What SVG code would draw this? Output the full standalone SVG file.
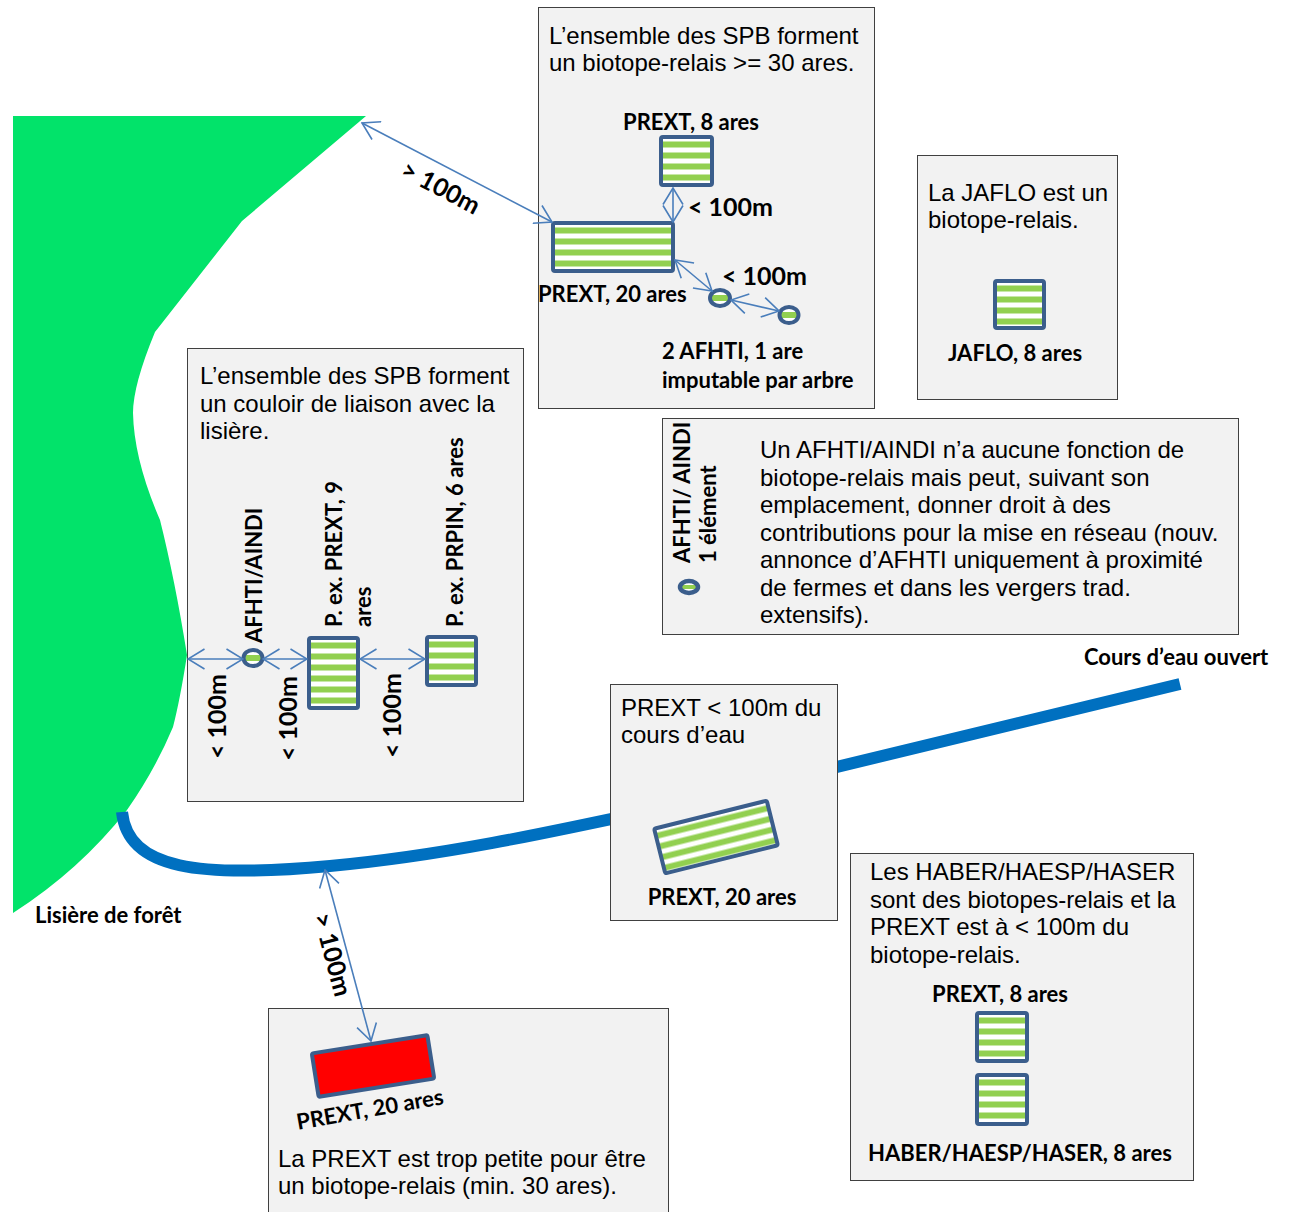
<svg xmlns="http://www.w3.org/2000/svg" width="1291" height="1212" viewBox="0 0 1291 1212">
<style>
.t{font-family:"Liberation Sans",Arial,sans-serif;font-size:24px;fill:#000}
.b{font-family:Lato,"Open Sans",sans-serif;font-weight:700;font-size:22px;fill:#000}
.box{fill:#F2F2F2;stroke:#404040;stroke-width:1}
.sq{fill:url(#stripes);stroke:#3B5E8C;stroke-width:4}
.el{fill:url(#band);stroke:#3B5E8C;stroke-width:4}
.ar{fill:none;stroke:#4A7EBB;stroke-width:1.6;marker-start:url(#ah);marker-end:url(#ah)}
.big{font-size:25px}
</style>
<defs>
<pattern id="stripes" patternUnits="userSpaceOnUse" width="20" height="11">
<rect width="20" height="11" fill="#FFFFFF"/>
<rect y="4.5" width="20" height="6" fill="#92D050"/>
</pattern>
<linearGradient id="band" x1="0" y1="0" x2="0" y2="1">
<stop offset="0" stop-color="#FFFFFF"/><stop offset="0.33" stop-color="#FFFFFF"/>
<stop offset="0.33" stop-color="#92D050"/><stop offset="0.67" stop-color="#92D050"/>
<stop offset="0.67" stop-color="#FFFFFF"/><stop offset="1" stop-color="#FFFFFF"/>
</linearGradient>
<marker id="ah" markerUnits="userSpaceOnUse" viewBox="0 0 18 22" refX="17" refY="11" markerWidth="18" markerHeight="22" orient="auto-start-reverse">
<path d="M0.5,1 L17,11 L0.5,21" fill="none" stroke="#4A7EBB" stroke-width="1.6"/>
</marker>
</defs>

<g id="forest">
<path d="M13,116 L366,116 L242,221 L155,332 Q133,385 133,413 Q134,460 160,520 Q175,580 187,655 Q180,700 173,727 Q155,770 127,810 Q80,870 13,913 Z" fill="#02E36A"/>
<text class="b" x="35" y="923">Lisière de forêt</text>
</g>

<g id="river">
<path d="M122,812 C128,870 200,878 330,866 C450,855 560,830 700,800 L1180,684" fill="none" stroke="#0070C0" stroke-width="12"/>
<text class="b" x="1084" y="665">Cours d’eau ouvert</text>
</g>

<g id="box-top">
<rect class="box" x="538.5" y="7.5" width="336" height="401"/>
<text class="t" x="549" y="44">L’ensemble des SPB forment</text>
<text class="t" x="549" y="71">un biotope-relais &gt;= 30 ares.</text>
<text class="b" x="691" y="130" text-anchor="middle">PREXT, 8 ares</text>
<g transform="translate(661,137)"><rect class="sq" width="51" height="48" rx="2"/></g>
<g transform="translate(553,223)"><rect class="sq" width="120" height="48" rx="2"/></g>
<text class="b" x="538" y="302">PREXT, 20 ares</text>
<ellipse class="el" cx="720" cy="298" rx="10" ry="8"/>
<ellipse class="el" cx="789" cy="315" rx="9.5" ry="8"/>
<text class="b big" x="688" y="216">&lt; 100m</text>
<text class="b big" x="722" y="285">&lt; 100m</text>
<text class="b" x="662" y="359">2 AFHTI, 1 are</text>
<text class="b" x="662" y="388">imputable par arbre</text>
</g>

<g id="box-jaflo">
<rect class="box" x="917.5" y="155.5" width="200" height="244"/>
<text class="t" x="928" y="201">La JAFLO est un</text>
<text class="t" x="928" y="228">biotope-relais.</text>
<g transform="translate(995,281)"><rect class="sq" width="49" height="47" rx="2"/></g>
<text class="b" x="1015" y="361" text-anchor="middle">JAFLO, 8 ares</text>
</g>

<g id="box-left">
<rect class="box" x="187.5" y="348.5" width="336" height="453"/>
<text class="t" x="200" y="384">L’ensemble des SPB forment</text>
<text class="t" x="200" y="412">un couloir de liaison avec la</text>
<text class="t" x="200" y="439">lisière.</text>
<ellipse class="el" cx="253" cy="658" rx="9.5" ry="8"/>
<g transform="translate(309,638)"><rect class="sq" width="49" height="70" rx="2"/></g>
<g transform="translate(427,637)"><rect class="sq" width="49" height="48" rx="2"/></g>
<text class="b" transform="translate(262,643) rotate(-90)">AFHTI/AINDI</text>
<text class="b" transform="translate(342,627) rotate(-90)">P. ex. PREXT, 9</text>
<text class="b" transform="translate(371,627) rotate(-90)">ares</text>
<text class="b" transform="translate(463,627) rotate(-90)">P. ex. PRPIN, 6 ares</text>
<text class="b big" transform="translate(226,759) rotate(-90)">&lt; 100m</text>
<text class="b big" transform="translate(297,761) rotate(-90)">&lt; 100m</text>
<text class="b big" transform="translate(401,758) rotate(-90)">&lt; 100m</text>
</g>

<g id="box-legend">
<rect class="box" x="662.5" y="418.5" width="576" height="216"/>
<text class="b" transform="translate(690,563) rotate(-90)">AFHTI/ AINDI</text>
<text class="b" transform="translate(716,563) rotate(-90)">1 élément</text>
<ellipse class="el" cx="689" cy="587" rx="9" ry="6" style="stroke-width:4.5"/>
<text class="t" x="760" y="458">Un AFHTI/AINDI n’a aucune fonction de</text>
<text class="t" x="760" y="485.5">biotope-relais mais peut, suivant son</text>
<text class="t" x="760" y="513">emplacement, donner droit à des</text>
<text class="t" x="760" y="540.5">contributions pour la mise en réseau (nouv.</text>
<text class="t" x="760" y="568">annonce d’AFHTI uniquement à proximité</text>
<text class="t" x="760" y="595.5">de fermes et dans les vergers trad.</text>
<text class="t" x="760" y="623">extensifs).</text>
</g>

<g id="box-river">
<rect class="box" x="610.5" y="684.5" width="227" height="236"/>
<text class="t" x="621" y="716">PREXT &lt; 100m du</text>
<text class="t" x="621" y="743">cours d’eau</text>
<g transform="translate(716,837) rotate(-14) translate(-58,-23)"><rect class="sq" width="116" height="46" rx="2"/></g>
<text class="b" x="722" y="905" text-anchor="middle">PREXT, 20 ares</text>
</g>

<g id="box-haber">
<rect class="box" x="850.5" y="853.5" width="343" height="327"/>
<text class="t" x="870" y="880">Les HABER/HAESP/HASER</text>
<text class="t" x="870" y="908">sont des biotopes-relais et la</text>
<text class="t" x="870" y="935">PREXT est à &lt; 100m du</text>
<text class="t" x="870" y="963">biotope-relais.</text>
<text class="b" x="1000" y="1002" text-anchor="middle">PREXT, 8 ares</text>
<g transform="translate(977,1013)"><rect class="sq" width="50" height="48" rx="2"/></g>
<g transform="translate(977,1075)"><rect class="sq" width="50" height="49" rx="2"/></g>
<text class="b" x="1020" y="1161" text-anchor="middle">HABER/HAESP/HASER, 8 ares</text>
</g>

<g id="box-red">
<rect class="box" x="268.5" y="1008.5" width="400" height="210"/>
<g transform="translate(373,1066) rotate(-9)"><rect x="-58.5" y="-22" width="117" height="44" rx="2" fill="#FF0000" stroke="#3B5E8C" stroke-width="4"/></g>
<text class="b" transform="translate(370,1110) rotate(-10)" x="0" y="7" text-anchor="middle">PREXT, 20 ares</text>
<text class="t" x="278" y="1167">La PREXT est trop petite pour être</text>
<text class="t" x="278" y="1194">un biotope-relais (min. 30 ares).</text>
</g>

<g id="connectors">
<path class="ar" d="M362,123 L552,222"/>
<text class="b big" transform="translate(440,189) rotate(28)" x="0" y="7" text-anchor="middle">&gt; 100m</text>
<path class="ar" d="M673,188 L673,222"/>
<path class="ar" d="M675,260 L712,291"/>
<path class="ar" d="M731,300 L779,311"/>
<path class="ar" d="M188,659 L243,659"/>
<path class="ar" d="M263,659 L307,659"/>
<path class="ar" d="M360,659 L425,659"/>
<path class="ar" d="M325,870 L371,1041"/>
<text class="b big" transform="translate(331,955) rotate(75)" x="0" y="7" text-anchor="middle">&gt; 100m</text>
</g>
</svg>
